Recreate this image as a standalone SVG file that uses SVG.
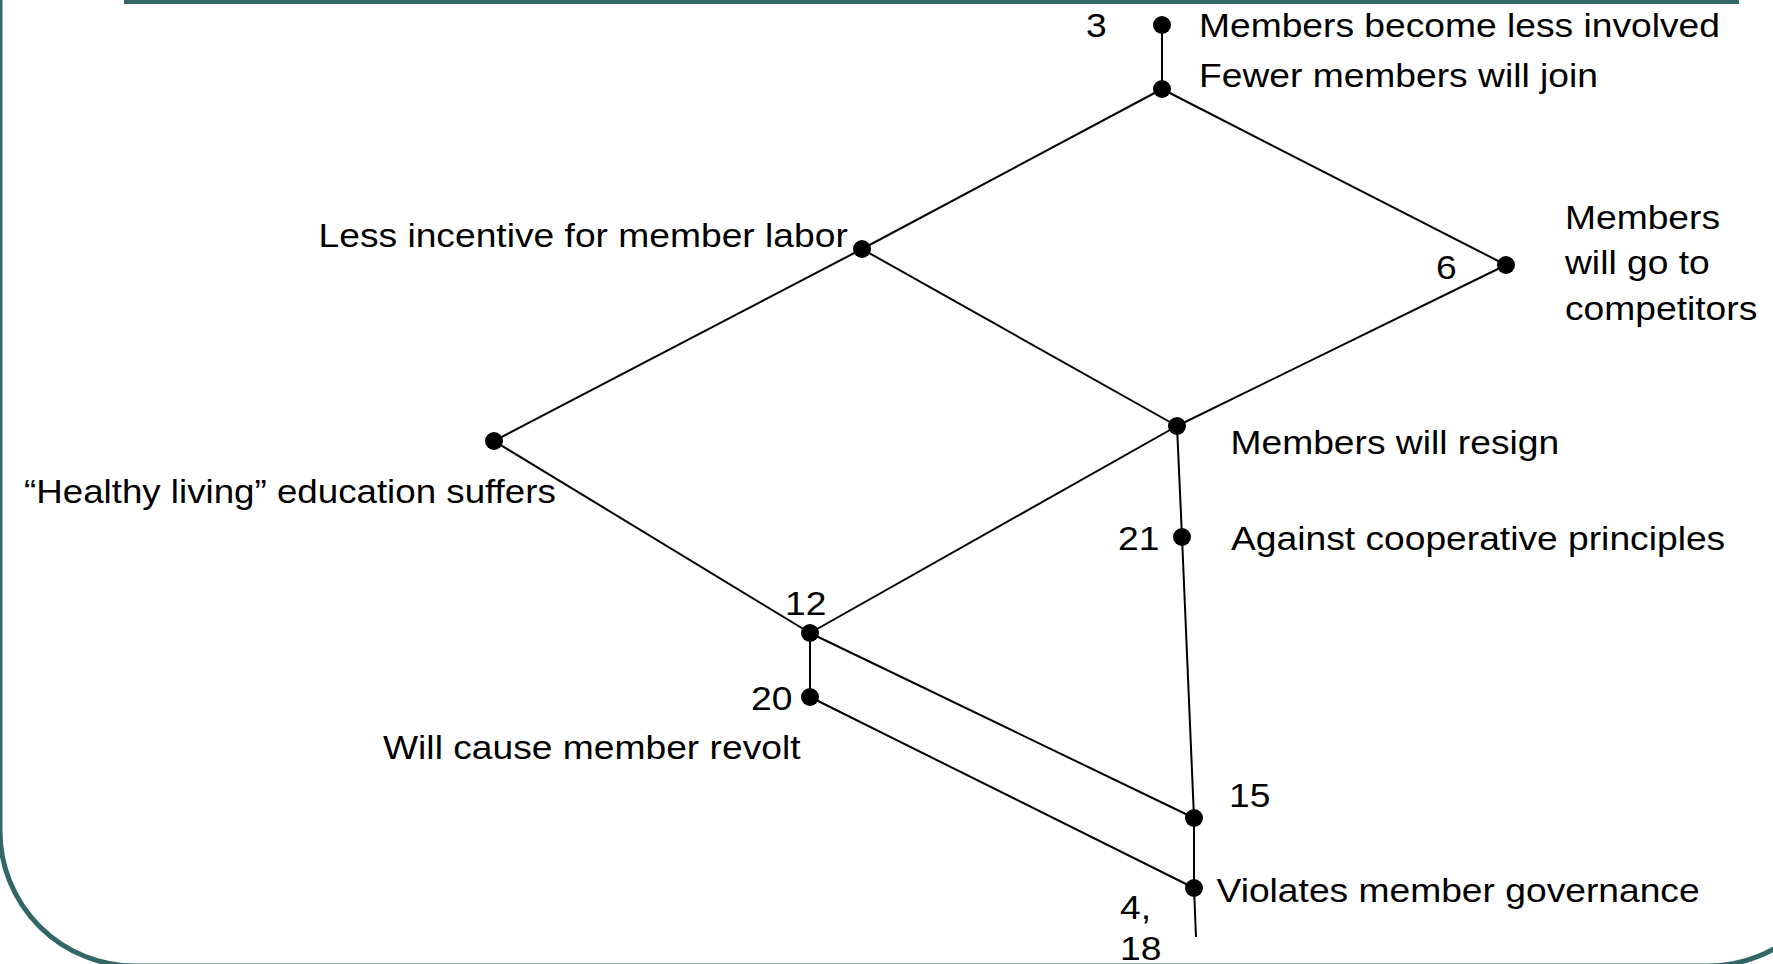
<svg xmlns="http://www.w3.org/2000/svg" width="1773" height="964" viewBox="0 0 1773 964">
<style>
.frame{fill:none;stroke:#336666;stroke-width:5}
.bar{fill:#336666}
.edge{fill:none;stroke:#000;stroke-width:2}
.dot{fill:#000}
.t{font-family:"Liberation Sans",Arial,sans-serif;font-size:32.5px;fill:#000}
</style>
<rect width="1773" height="964" fill="#fff"/>
<g id="frame">
<path class="frame" d="M0,-200 L0,831 A135,135 0 0 0 135,966 L1708,966 A135,135 0 0 0 1843,831 L1843,-200"/>
<rect class="bar" x="124" y="-2" width="1615" height="6"/>
</g>
<g id="connectors">
<line class="edge" x1="1162" y1="25" x2="1162" y2="89"/>
<line class="edge" x1="1162" y1="89" x2="862" y2="249"/>
<line class="edge" x1="1162" y1="89" x2="1506" y2="265"/>
<line class="edge" x1="862" y1="249" x2="494" y2="441"/>
<line class="edge" x1="862" y1="249" x2="1177" y2="426"/>
<line class="edge" x1="1506" y1="265" x2="1177" y2="426"/>
<line class="edge" x1="494" y1="441" x2="810" y2="633"/>
<line class="edge" x1="1177" y1="426" x2="810" y2="633"/>
<polyline class="edge" points="1177,426 1182,537 1194,818 1194,888 1196,937"/>
<line class="edge" x1="810" y1="633" x2="810" y2="697"/>
<line class="edge" x1="810" y1="633" x2="1194" y2="818"/>
<line class="edge" x1="810" y1="697" x2="1194" y2="888"/>
</g>
<g id="n3">
<circle class="dot" cx="1162" cy="25" r="9"/>
<text class="t" transform="translate(1086,36.5) scale(1.145,1)">3</text>
<text class="t" transform="translate(1199,36.5) scale(1.145,1)">Members become less involved</text>
</g>
<g id="nJoin">
<circle class="dot" cx="1162" cy="89" r="9"/>
<text class="t" transform="translate(1199,86.5) scale(1.145,1)">Fewer members will join</text>
</g>
<g id="nLabor">
<circle class="dot" cx="862" cy="249" r="9"/>
<text class="t" transform="translate(318.5,247) scale(1.145,1)">Less incentive for member labor</text>
</g>
<g id="n6">
<circle class="dot" cx="1506" cy="265" r="9"/>
<text class="t" transform="translate(1436,279) scale(1.145,1)">6</text>
<text class="t" transform="translate(1565,229) scale(1.145,1)"><tspan x="0" y="0">Members</tspan><tspan x="0" y="45.5">will go to</tspan><tspan x="0" y="91">competitors</tspan></text>
</g>
<g id="nHealthy">
<circle class="dot" cx="494" cy="441" r="9"/>
<text class="t" transform="translate(24,502.5) scale(1.13,1)">“Healthy living” education suffers</text>
</g>
<g id="nResign">
<circle class="dot" cx="1177" cy="426" r="9"/>
<text class="t" transform="translate(1230.5,454) scale(1.145,1)">Members will resign</text>
</g>
<g id="n21">
<circle class="dot" cx="1182" cy="537" r="9"/>
<text class="t" transform="translate(1118,550) scale(1.145,1)">21</text>
<text class="t" transform="translate(1231,550) scale(1.145,1)">Against cooperative principles</text>
</g>
<g id="n12">
<circle class="dot" cx="810" cy="633" r="9"/>
<text class="t" transform="translate(785,615) scale(1.145,1)">12</text>
</g>
<g id="n20">
<circle class="dot" cx="810" cy="697" r="9"/>
<text class="t" transform="translate(751,709.5) scale(1.145,1)">20</text>
<text class="t" transform="translate(383,759) scale(1.145,1)">Will cause member revolt</text>
</g>
<g id="n15">
<circle class="dot" cx="1194" cy="818" r="9"/>
<text class="t" transform="translate(1229,806.5) scale(1.145,1)">15</text>
</g>
<g id="n4_18">
<circle class="dot" cx="1194" cy="888" r="9"/>
<text class="t" transform="translate(1216.5,901.5) scale(1.145,1)">Violates member governance</text>
<text class="t" transform="translate(1120,919) scale(1.145,1)"><tspan x="0" y="0">4,</tspan><tspan x="0" y="41.5">18</tspan></text>
</g>
</svg>
